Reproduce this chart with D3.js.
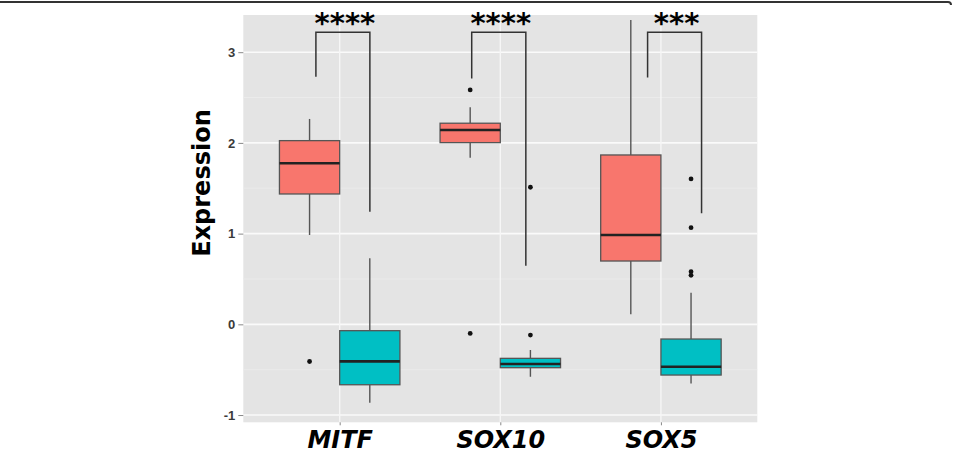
<!DOCTYPE html>
<html>
<head>
<meta charset="utf-8">
<script src="https://cdn.jsdelivr.net/npm/d3@7"></script>
<style>
  body { margin: 0; background: #fff; }
  svg { display: block; }
</style>
</head>
<body>
<div id="chart"></div>
<script>
// genes on the x axis, two groups per gene
var genes = ["MITF", "SOX10", "SOX5"];
var groups = ["group1", "group2"];
var groupColors = ["#F8766D", "#00BFC4"];

// box stats: [lower whisker, q1, median, q3, upper whisker]
var group1Stats = [
    [0.985, 1.437, 1.776, 2.025, 2.264],
    [1.837, 2.003, 2.143, 2.217, 2.393],
    [0.110, 0.698, 0.985, 1.867, 3.356]
];
var group2Stats = [
    [-0.865, -0.666, -0.408, -0.070, 0.728],
    [-0.578, -0.478, -0.438, -0.375, -0.283],
    [-0.651, -0.559, -0.467, -0.162, 0.349]
];
var group1Outliers = [[-0.41], [2.584, -0.10], []];
var group2Outliers = [[], [1.511, -0.118], [1.603, 1.065, 0.58, 0.54]];

// significance brackets (x as offsets from the gene, in category steps)
var bracketLeft = [-0.148, -0.178, -0.083];
var bracketRight = [0.188, 0.159, 0.253];
var bracketLeftEnd = [2.73, 2.71, 2.72];
var bracketRightEnd = [1.24, 0.646, 1.225];
var bracketTop = [3.22, 3.22, 3.22];
var bracketLabels = ["****", "****", "***"];

var yTicks = [-1, 0, 1, 2, 3];
var yMinor = [-0.5, 0.5, 1.5, 2.5];

var W = 953, H = 456;
var panel = {left: 243.3, right: 757.3, top: 15, bottom: 422.3};

var svg = d3.select("#chart")
    .append("svg")
    .attr("width", W)
    .attr("height", H);

// top border of the figure frame
svg.append("path")
    .attr("d", "M0,2 H948 Q951,2 951,5")
    .attr("fill", "none")
    .attr("stroke", "#333")
    .attr("stroke-width", 2);

var xScale = d3.scalePoint()
    .domain(genes)
    .range([panel.left, panel.right])
    .padding(0.6);
var step = xScale.step();

var dodge = d3.scaleBand()
    .domain(groups)
    .range([-0.375 * step, 0.375 * step]);

var yScale = d3.scaleLinear()
    .domain([-1.08, 3.41])
    .range([panel.bottom, panel.top]);

// panel background
svg.append("rect")
    .attr("x", panel.left)
    .attr("y", panel.top)
    .attr("width", panel.right - panel.left)
    .attr("height", panel.bottom - panel.top)
    .attr("fill", "#e4e4e4");

// grid lines
svg.selectAll(".minor")
    .data(yMinor)
    .enter().append("line")
    .attr("x1", panel.left).attr("x2", panel.right)
    .attr("y1", d => yScale(d)).attr("y2", d => yScale(d))
    .attr("stroke", "#ececec")
    .attr("stroke-width", 0.8);

svg.selectAll(".major")
    .data(yTicks)
    .enter().append("line")
    .attr("x1", panel.left).attr("x2", panel.right)
    .attr("y1", d => yScale(d)).attr("y2", d => yScale(d))
    .attr("stroke", "#fafafa")
    .attr("stroke-width", 1.6);

svg.selectAll(".vgrid")
    .data(genes)
    .enter().append("line")
    .attr("x1", d => xScale(d)).attr("x2", d => xScale(d))
    .attr("y1", panel.top).attr("y2", panel.bottom)
    .attr("stroke", "#f6f6f6")
    .attr("stroke-width", 1.4);

// y axis (plain hyphen for negatives, as in the figure)
var yAxis = svg.append("g")
    .attr("transform", "translate(" + panel.left + ",0)")
    .call(d3.axisLeft(yScale)
        .tickValues(yTicks)
        .tickFormat(d => String(d))
        .tickSize(5)
        .tickPadding(3));
yAxis.select(".domain").remove();
yAxis.selectAll(".tick line").attr("stroke", "#888");
yAxis.selectAll("text")
    .attr("fill", "#3a3a3a")
    .style("font-family", "'Liberation Sans', Arial, sans-serif")
    .style("font-weight", "bold")
    .style("font-size", "13px");

// x axis
var xAxis = svg.append("g")
    .attr("transform", "translate(0," + panel.bottom + ")")
    .call(d3.axisBottom(xScale).tickSize(3).tickPadding(5));
xAxis.select(".domain").remove();
xAxis.selectAll(".tick line").attr("stroke", "#888");
xAxis.selectAll("text")
    .attr("fill", "#000")
    .attr("dy", "0.72em")
    .style("font-family", "'DejaVu Sans', sans-serif")
    .style("font-weight", "bold")
    .style("font-style", "italic")
    .style("font-size", "24px");

// y axis title
svg.append("text")
    .attr("transform", "translate(210,183) rotate(-90)")
    .style("text-anchor", "middle")
    .style("font-family", "'DejaVu Sans', sans-serif")
    .style("font-weight", "bold")
    .style("font-size", "24px")
    .text("Expression");

// build the box rows
var boxes = [];
genes.forEach(function(g, i) {
    boxes.push({gene: g, group: groups[0], color: groupColors[0], s: group1Stats[i], out: group1Outliers[i]});
    boxes.push({gene: g, group: groups[1], color: groupColors[1], s: group2Stats[i], out: group2Outliers[i]});
});

var bw = dodge.bandwidth();
var boxG = svg.selectAll(".box")
    .data(boxes)
    .enter().append("g")
    .attr("transform", d => "translate(" + (xScale(d.gene) + dodge(d.group) + bw / 2) + ",0)");

// whiskers
boxG.append("line")
    .attr("x1", 0).attr("x2", 0)
    .attr("y1", d => yScale(d.s[4])).attr("y2", d => yScale(d.s[3]))
    .attr("stroke", "#555").attr("stroke-width", 1.4);
boxG.append("line")
    .attr("x1", 0).attr("x2", 0)
    .attr("y1", d => yScale(d.s[1])).attr("y2", d => yScale(d.s[0]))
    .attr("stroke", "#555").attr("stroke-width", 1.4);

// boxes
boxG.append("rect")
    .attr("x", -bw / 2)
    .attr("width", bw)
    .attr("y", d => yScale(d.s[3]))
    .attr("height", d => yScale(d.s[1]) - yScale(d.s[3]))
    .attr("fill", d => d.color)
    .attr("stroke", "#555")
    .attr("stroke-width", 1.3);

// medians
boxG.append("line")
    .attr("x1", -bw / 2).attr("x2", bw / 2)
    .attr("y1", d => yScale(d.s[2])).attr("y2", d => yScale(d.s[2]))
    .attr("stroke", "#222").attr("stroke-width", 2.6);

// outliers
boxG.selectAll("circle")
    .data(d => d.out)
    .enter().append("circle")
    .attr("cx", 0)
    .attr("cy", d => yScale(d))
    .attr("r", 2.4)
    .attr("fill", "#111");

// significance brackets
genes.forEach(function(g, i) {
    var xl = xScale(g) + bracketLeft[i] * step;
    var xr = xScale(g) + bracketRight[i] * step;
    var yt = yScale(bracketTop[i]);
    svg.append("path")
        .attr("d", "M" + xl + "," + yScale(bracketLeftEnd[i]) + " V" + yt + " H" + xr + " V" + yScale(bracketRightEnd[i]))
        .attr("fill", "none")
        .attr("stroke", "#333")
        .attr("stroke-width", 1.5);
    svg.append("text")
        .attr("x", (xl + xr) / 2 + 2)
        .attr("y", yt + 1)
        .style("text-anchor", "middle")
        .style("font-family", "'DejaVu Sans', sans-serif")
        .style("font-weight", "bold")
        .style("font-size", "29px")
        .text(bracketLabels[i]);
});
</script>
</body>
</html>
